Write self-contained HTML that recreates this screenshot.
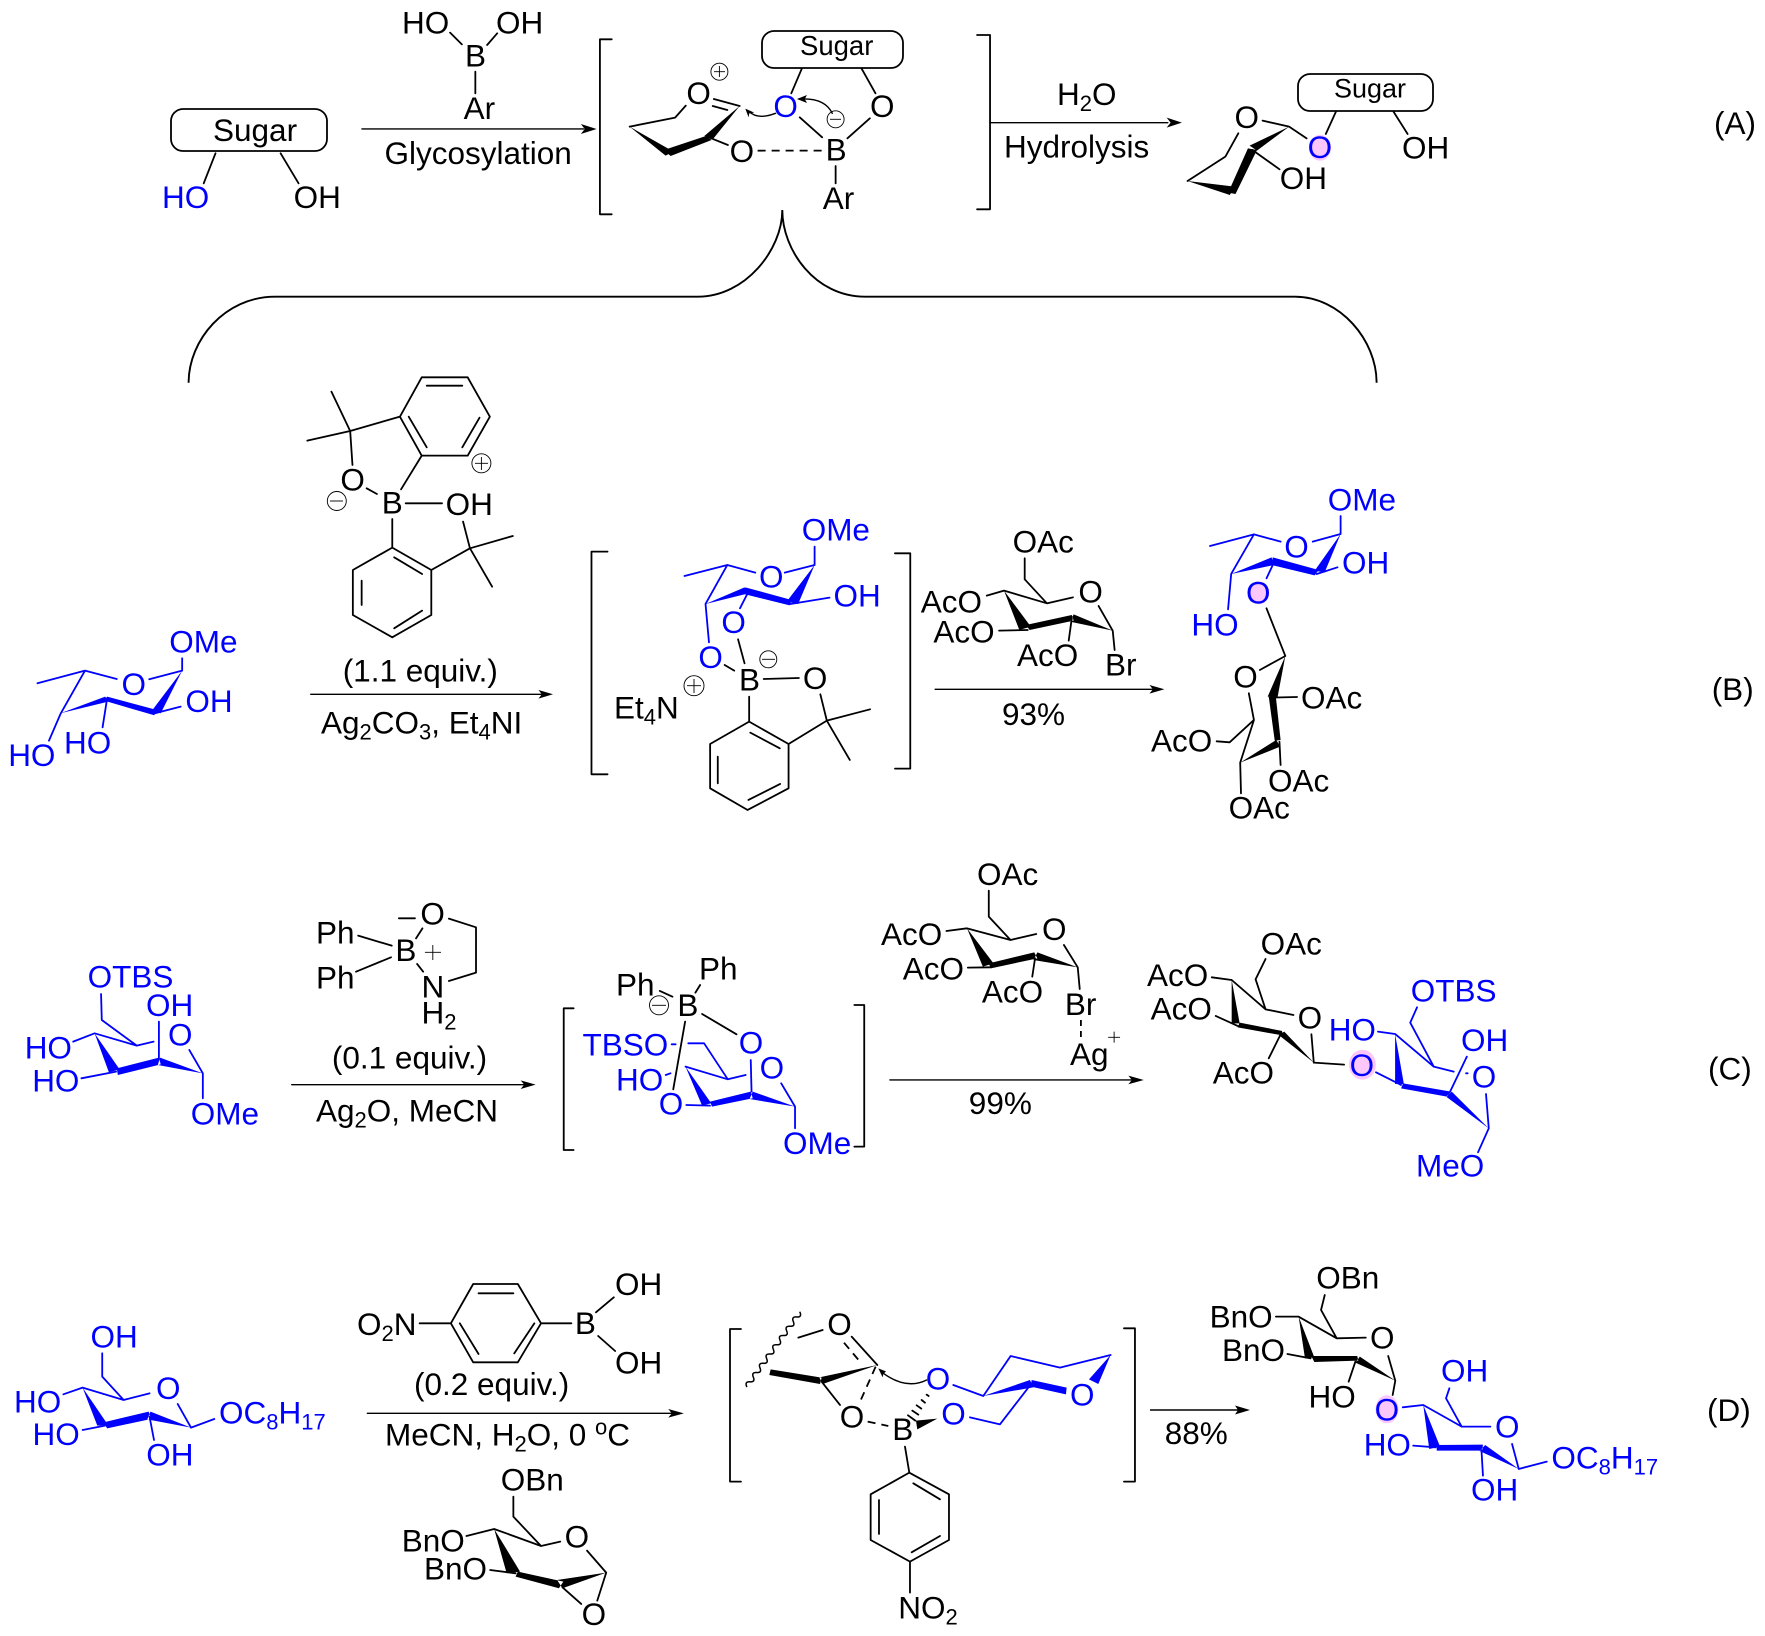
<!DOCTYPE html>
<html><head><meta charset="utf-8"><title>Boron-mediated glycosylation</title>
<style>
html,body{margin:0;padding:0;background:#fff}
svg{display:block}
text{font-family:"Liberation Sans",Arial,sans-serif;font-size:31.5px;fill:#000;transform:translateX(-1px)}
text.b{fill:#00f}
.k,.u,.a,.d,.du{fill:none;vector-effect:non-scaling-stroke;stroke-width:1.8;stroke-linecap:round;stroke-linejoin:round}
.k{stroke:#000}.u{stroke:#00f}
.a{stroke:#000;stroke-width:1.4}
.d{stroke:#000;stroke-dasharray:8 6;stroke-linecap:butt}
.du{stroke:#00f}
.w{fill:#000;stroke:none}.wb{fill:#00f;stroke:none}
.c{fill:none;stroke:#000;stroke-width:.9}
</style></head><body>
<svg xmlns="http://www.w3.org/2000/svg" width="1765" height="1636" viewBox="0 0 1765 1636">
<rect width="1765" height="1636" fill="#fff"/>

<!-- brace -->
<path d="M188.6,382.7C188.6,340 225,296.7 275,296.7L698,296.7C745,296.7 782.3,250 782.3,210C782.3,250 815,296.7 865,296.7L1295,296.7C1340,296.7 1376.6,340 1376.6,382.7" fill="none" stroke="#000" stroke-width="1.9"/>

<!-- pink highlights -->
<g fill="#fcc8fc">
<ellipse cx="1320" cy="147.7" rx="11" ry="13"/>
<ellipse cx="1258.6" cy="592.7" rx="10.5" ry="11.5"/>
<ellipse cx="1362.4" cy="1064.7" rx="13.5" ry="15"/>
<ellipse cx="1387" cy="1409.3" rx="11.5" ry="14"/>
</g>

<!-- Panel A left -->
<g transform="scale(.5612,.3333)">
<path class="k" d="M384,460L363,550M500,460L532,550M802,98L823,133M886,100L868,135M847,215L847,280M1090,118L1069,118L1069,643L1090,643M1429,205L1410,280M1535,205L1560,280M1122,380L1203,353L1222,317M1272,297L1318,318M1270,318L1296,330M1263,412L1297,435M1425,352L1465,412M1510,415L1550,355M1489,498L1489,550"/>
<path class="a" d="M645,387L1040,387M1382,340Q1350,360 1335,335M1483,340Q1470,295 1430,297"/>
<path class="w" d="M1063,387L1035,372L1042,387L1035,402ZM1328,326L1344,338L1335,340L1334,352ZM1420,297L1438,285L1434,297L1438,309Z"/>
<path class="w" d="M1318,318L1270,418L1255,408ZM1258,408L1268,420L1195,468L1183,450ZM1122,380L1200,455L1186,467Z"/>
<path class="d" d="M1350,452L1470,452"/>
</g>
<rect x="171" y="109" width="156" height="42" rx="12" fill="none" stroke="#000" stroke-width="1.8"/>
<rect x="762" y="31" width="141" height="37" rx="12" fill="none" stroke="#000" stroke-width="1.8"/>
<text x="214" y="141">Sugar</text>
<text class="b" x="163" y="208">HO</text>
<text x="294.6" y="208">OH</text>
<text x="403" y="33.7">HO</text>
<text x="497" y="33.7">OH</text>
<text x="466" y="66.7">B</text>
<text x="464.6" y="119">Ar</text>
<text x="385.5" y="164">Glycosylation</text>
<text x="801" y="55" style="font-size:27.5px">Sugar</text>
<text class="b" x="774.4" y="117">O</text>
<text x="871" y="117">O</text>
<text x="687.4" y="104">O</text>
<text x="730.6" y="162">O</text>
<text x="826.6" y="160.7">B</text>
<text x="823.8" y="209">Ar</text>
<circle class="c" cx="719.4" cy="71.7" r="8.5"/><path class="c" d="M714,71.7H725M719.4,66V77"/>
<circle class="c" cx="835.6" cy="119.3" r="8.5"/><path class="c" d="M830,119.3H841"/>

<!-- Panel A right -->
<g transform="translate(880,0) scale(.5643,.3333)">
<path class="k" d="M172,105L195,105L195,628L172,628M678,362L725,380L756,415M545,543L612,470L635,400M660,450L708,508M808,335L790,402M910,335L935,402"/>
<path class="a" d="M195,368L510,368"/>
<path class="w" d="M535,368L508,353L515,368L508,383ZM725,380L668,452L655,437ZM652,445L668,450L630,582L617,578ZM545,543L628,560L620,585Z"/>
</g>
<rect x="1298" y="74" width="135" height="37" rx="12" fill="none" stroke="#000" stroke-width="1.8"/>
<text x="1058" y="105">H<tspan font-size="22" dy="6">2</tspan><tspan dy="-6">O</tspan></text>
<text x="1005" y="157.7">Hydrolysis</text>
<text x="1235.5" y="128">O</text>
<text x="1280.7" y="189">OH</text>
<text class="b" x="1308.6" y="158">O</text>
<text x="1335" y="97.7" style="font-size:27px">Sugar</text>
<text x="1403" y="158.7">OH</text>
<text x="1715" y="134">(A)</text>

<!-- Panel B reagent + SM -->
<g transform="translate(0,370) scale(.3827,.3333)">
<path class="k" d="M1045,140L1102,22L1222,22L1280,140L1222,257L1102,257ZM1115,47L1208,47M1253,143L1208,232M1068,140L1115,232M915,183L1045,140M915,183L866,65M915,183L803,212M915,183L921,285M958,355L985,372M1048,358L1102,257M1060,400L1155,400M1025,447L1025,533L1127,600L1127,735L1025,802L922,735L922,600L1025,533M1030,562L1103,612M945,632L945,705M1030,775L1103,722M1127,600L1228,535L1210,455M1228,535L1340,498M1228,535L1286,650"/>
<path class="a" d="M812,973L1420,973"/>
<path class="w" d="M1445,973L1407,960L1416,973L1407,986Z"/>
<path class="u" d="M476,865L476,902L390,928M305,927L222,902L98,940M222,902L158,1032M405,1030L472,1010M280,985L268,1072M158,1032L128,1112"/>
<path class="wb" d="M476,902L420,1030L395,1025ZM280,980L410,1020L403,1036L272,992ZM158,1030L275,980L283,995Z"/>
</g>
<text x="341.4" y="490.7">O</text>
<text x="382.7" y="513.3">B</text>
<text x="446.6" y="515">OH</text>
<circle class="c" cx="481.4" cy="463.3" r="9.5"/><path class="c" d="M475,463.3H488M481.4,457V470"/>
<circle class="c" cx="336.8" cy="501" r="9.5"/><path class="c" d="M330,501H343"/>
<text x="343.7" y="681.7">(1.1 equiv.)</text>
<text x="322" y="733.3">Ag<tspan font-size="22" dy="6">2</tspan><tspan dy="-6">CO</tspan><tspan font-size="22" dy="6">3</tspan><tspan dy="-6">, Et</tspan><tspan font-size="22" dy="6">4</tspan><tspan dy="-6">NI</tspan></text>
<text class="b" x="170.3" y="652.7">OMe</text>
<text class="b" x="122.5" y="695">O</text>
<text class="b" x="186.4" y="712">OH</text>
<text class="b" x="65" y="753.3">HO</text>
<text class="b" x="9.2" y="766">HO</text>

<!-- Panel B intermediate + bromide -->
<g transform="translate(580,480) scale(.3827,.3333)">
<path class="k" d="M72,215L30,215L30,883L72,883M823,220L863,220L863,866L823,866M413,478L430,550M378,555L403,572M480,597L572,594M628,643L645,722L758,688M645,722L705,840M645,722L545,792M442,650L442,725L545,792L545,925L438,990L340,925L340,792L442,725M445,758L522,805M360,830L360,910M440,960L523,912M1162,235L1162,298L1220,370L1288,352M1355,378L1392,452M1063,347L1108,332L1220,370M1170,450L1095,452M1285,415L1277,482M1392,452L1397,510"/>
<path class="a" d="M928,628L1500,628"/>
<path class="w" d="M1527,628L1488,615L1497,628L1488,641ZM1108,332L1178,440L1148,450ZM1165,435L1285,405L1290,422L1175,450ZM1392,452L1290,403L1280,425Z"/>
<path class="u" d="M613,200L613,255L535,278M458,278L385,255L273,288M385,255L328,372M550,372L652,353M438,340L418,385M328,372L337,487"/>
<path class="wb" d="M613,255L570,372L540,365ZM432,322L553,360L548,376L428,342ZM328,372L430,322L440,340Z"/>
</g>
<text class="b" x="802.7" y="540.7">OMe</text>
<text class="b" x="760" y="587.7">O</text>
<text class="b" x="834.5" y="606.7">OH</text>
<text class="b" x="722.4" y="633">O</text>
<text class="b" x="699.4" y="668">O</text>
<text x="740" y="690.7">B</text>
<text x="803.9" y="689">O</text>
<circle class="c" cx="768.3" cy="659.3" r="8.5"/><path class="c" d="M762,659.3H775"/>
<text x="615" y="718.3">Et<tspan font-size="22" dy="6">4</tspan><tspan dy="-6">N</tspan></text>
<circle class="c" cx="694" cy="685.7" r="10"/><path class="c" d="M687,685.7H701M694,679V693"/>
<text x="1013.6" y="552.3">OAc</text>
<text x="1079.4" y="602.3">O</text>
<text x="921.7" y="612.7">AcO</text>
<text x="934.4" y="642.3">AcO</text>
<text x="1018" y="666">AcO</text>
<text x="1106" y="675.7">Br</text>
<text x="1003" y="725">93%</text>

<!-- Panel B product -->
<g transform="translate(1150,470) scale(.3922,.3333)">
<path class="u" d="M486,138L486,192L415,215M333,215L265,193L153,228M265,193L207,312M425,312L478,292M315,280L297,325M207,312L199,418"/>
<path class="wb" d="M486,192L445,308L420,302ZM313,262L430,300L420,316L310,285ZM207,312L310,262L316,285Z"/>
<path class="k" d="M297,415L345,558L280,600M305,683L375,681M252,670L265,750L203,817L170,814M265,750L230,878M330,815L333,885M230,878L232,970"/>
<path class="w" d="M345,558L325,683L300,680ZM303,682L321,682L333,810L318,812ZM230,878L322,810L332,830Z"/>
</g>
<text class="b" x="1328.8" y="510.7">OMe</text>
<text class="b" x="1285.3" y="557.3">O</text>
<text class="b" x="1343" y="573.3">OH</text>
<text class="b" x="1247" y="603.3">O</text>
<text class="b" x="1192.4" y="635.3">HO</text>
<text x="1234.3" y="687.3">O</text>
<text x="1302" y="708.3">OAc</text>
<text x="1152" y="751.3">AcO</text>
<text x="1269" y="791.3">OAc</text>
<text x="1229.6" y="818.7">OAc</text>
<text x="1712.7" y="700">(B)</text>

<!-- Panel C left -->
<g transform="translate(0,880) scale(.3571,.3333)">
<path class="u" d="M283,342L285,420L383,497L430,485M445,425L445,535M530,510L568,580L568,655M383,497L265,460L205,485M325,575L228,595"/>
<path class="wb" d="M265,460L335,568L305,577ZM327,565L445,533L450,553L330,585ZM568,580L448,533L442,555Z"/>
<path class="k" d="M1003,167L1097,197M997,275L1095,232M1165,175L1183,145M1117,115L1162,115M1257,116L1333,142L1333,278L1257,303M1168,252L1185,275"/>
<path class="c" style="vector-effect:non-scaling-stroke" d="M1190,217L1235,217M1212,195L1212,240"/>
<path class="a" d="M817,614L1475,614"/>
<path class="w" d="M1500,614L1458,601L1468,614L1458,627Z"/>
</g>
<text class="b" x="88.6" y="987.7">OTBS</text>
<text class="b" x="147" y="1016">OH</text>
<text class="b" x="169" y="1045.7">O</text>
<text class="b" x="191.8" y="1124.3">OMe</text>
<text class="b" x="25.7" y="1058.3">HO</text>
<text class="b" x="33.2" y="1091.7">HO</text>
<text x="317" y="943.3">Ph</text>
<text x="317" y="988.3">Ph</text>
<text x="396.4" y="961">B</text>
<text x="421.4" y="924.7">O</text>
<text x="422.5" y="997.3">N</text>
<text x="422.5" y="1023.3">H<tspan font-size="22" dy="6">2</tspan></text>
<text x="332.9" y="1068.3">(0.1 equiv.)</text>
<text x="317" y="1121.7">Ag<tspan font-size="22" dy="6">2</tspan><tspan dy="-6">O, MeCN</tspan></text>

<!-- Panel C intermediate + bromide -->
<g transform="translate(540,850) scale(.3954,.3333)">
<path class="k" d="M85,475L60,475L60,900L85,900M795,465L820,465L820,890L795,890M405,405L393,428M303,423L335,440M410,492L497,553M367,515L337,718M1135,122L1135,200L1190,270L1255,252M1325,285L1360,352L1365,417M1028,243L1080,235L1190,270M1082,353L1140,352M1252,325L1245,380"/>
<path class="d" style="stroke-dasharray:6 5" d="M1368,510L1368,570"/>
<path class="c" style="vector-effect:non-scaling-stroke" d="M1437,562L1467,562M1452,545L1452,578"/>
<path class="a" d="M885,690L1500,690"/>
<path class="w" d="M1527,690L1488,677L1497,690L1488,703ZM1080,235L1147,340L1120,350ZM1135,340L1250,307L1258,325L1140,355ZM1360,352L1258,307L1248,330Z"/>
<path class="u" d="M333,583L343,583M375,580L415,580L475,688L520,675M533,630L535,725M610,700L645,770L645,835M475,688L368,650M318,675L330,670M430,767L370,765"/>
<path class="wb" d="M368,650L433,760L410,767ZM430,755L533,725L538,745L435,770ZM645,770L538,725L530,747Z"/>
</g>
<text x="700" y="979.3">Ph</text>
<text x="617" y="995.3">Ph</text>
<circle class="c" cx="659" cy="1005.3" r="9.5"/><path class="c" d="M652,1005.3H666"/>
<text x="678.4" y="1016">B</text>
<text class="b" x="739.7" y="1053.3">O</text>
<text class="b" x="583.5" y="1055.3">TBSO</text>
<text class="b" x="760.6" y="1078.3">O</text>
<text class="b" x="784" y="1154">OMe</text>
<text class="b" x="617" y="1090.7">HO</text>
<text class="b" x="659.8" y="1114.3">O</text>
<text x="978" y="885">OAc</text>
<text x="1043" y="940">O</text>
<text x="1065.9" y="1015">Br</text>
<text x="1071" y="1065">Ag</text>
<text x="882" y="945">AcO</text>
<text x="903.8" y="979.3">AcO</text>
<text x="982.9" y="1002.3">AcO</text>
<text x="969.8" y="1114">99%</text>

<!-- Panel C product -->
<g transform="translate(1140,920) scale(.3986,.3333)">
<path class="k" d="M315,117L290,178L315,268M230,180L315,268L385,285M430,343L436,428M180,172L230,180M190,288L245,318M355,338L323,415M436,428L512,434"/>
<path class="w" d="M230,180L250,310L230,310ZM250,308L357,333L352,345L245,322ZM436,428L362,335L348,345Z"/>
<path class="u" d="M592,457L655,495M597,335L640,342L737,440L678,308L695,262M737,440L787,455M778,515L820,410M868,522L875,625L848,697M818,460L822,460"/>
<path class="wb" d="M640,342L662,492L640,492ZM660,490L780,515L770,530L655,505ZM875,625L782,515L768,530Z"/>
</g>
<text x="1261.6" y="954.3">OAc</text>
<text x="1298.6" y="1028.3">O</text>
<text x="1148" y="986">AcO</text>
<text x="1151.6" y="1019.3">AcO</text>
<text x="1213.7" y="1083.3">AcO</text>
<text class="b" x="1350.6" y="1076">O</text>
<text class="b" x="1329.7" y="1040.7">HO</text>
<text class="b" x="1411.8" y="1001.7">OTBS</text>
<text class="b" x="1462" y="1051">OH</text>
<text class="b" x="1472.8" y="1087.7">O</text>
<text class="b" x="1417" y="1176.7">MeO</text>
<text x="1709" y="1079.3">(C)</text>

<!-- Panel D left -->
<g transform="translate(0,1260) scale(.4464,.3333)">
<path class="u" d="M229,280L229,350L277,420L335,400M398,432L428,503L480,477M277,420L185,383L142,403M235,497L185,510M335,470L345,540"/>
<path class="wb" d="M185,383L242,495L218,497ZM232,487L333,455L338,477L240,505ZM428,503L337,455L330,478Z"/>
<path class="k" d="M940,190L1010,190L1060,72L1160,72L1212,190L1160,307L1060,307L1010,190M1072,100L1150,100M1197,190L1152,280M1030,190L1072,282M1212,190L1280,190M1335,157L1375,112M1340,228L1378,273M1150,710L1150,770L1212,858L1255,845M1315,872L1358,938L1338,1022M1045,828L1107,807L1212,858M1155,940L1098,930M1260,982L1302,1032"/>
<path class="a" d="M823,460L1505,460"/>
<path class="w" d="M1532,460L1497,447L1505,460L1497,473ZM1107,807L1165,935L1135,940ZM1160,935L1262,965L1252,985L1155,950ZM1358,938L1248,960L1260,985Z"/>
</g>
<text class="b" x="91.5" y="1347.3">OH</text>
<text class="b" x="157" y="1399">O</text>
<text class="b" x="220" y="1423.3">OC<tspan font-size="22" dy="6">8</tspan><tspan dy="-6">H</tspan><tspan font-size="22" dy="6">17</tspan></text>
<text class="b" x="15" y="1412.3">HO</text>
<text class="b" x="33.5" y="1445">HO</text>
<text class="b" x="147.3" y="1465.7">OH</text>
<text x="358" y="1335">O<tspan font-size="22" dy="6">2</tspan><tspan dy="-6">N</tspan></text>
<text x="575.9" y="1334">B</text>
<text x="616" y="1295">OH</text>
<text x="616" y="1373.3">OH</text>
<text x="415" y="1395">(0.2 equiv.)</text>
<text x="386" y="1445.7">MeCN, H<tspan font-size="22" dy="6">2</tspan><tspan dy="-6">O, 0 </tspan><tspan font-size="22" dy="-11">o</tspan><tspan dy="11">C</tspan></text>
<text x="501.8" y="1490.7">OBn</text>
<text x="565.6" y="1547.3">O</text>
<text x="402.7" y="1551.7">BnO</text>
<text x="425" y="1579.3">BnO</text>
<text x="582.6" y="1625">O</text>

<!-- Panel D intermediate -->
<g transform="translate(700,1300) scale(.3333)">
<path class="k" d="M123,87L90,87L90,545L123,545M1272,85L1305,85L1305,545L1272,545M295,113L368,90M455,110L532,195M365,245L420,315M615,440L628,518L747,583L747,720L630,785L512,720L512,583L628,518M640,550L720,598M537,600L537,702M635,757L720,708M630,785L630,878"/>
<path class="k" style="stroke-width:1.5" d="M300,37q6.3,15.1 -10,13.9t-10,13.9t-10,13.9t-10,13.9t-10,13.9t-10,13.9t-10,13.9t-10,13.9t-10,13.9t-10,13.9t-10,13.9t-10,13.9t-10,13.9t-10,13.9t-10,13.9t-10,13.9"/>
<path class="d" d="M432,128L480,185M527,200L478,310M503,365L565,378"/>
<path class="a" d="M680,240Q620,270 550,220"/>
<path class="w" d="M535,205L558,214L550,222L548,232ZM212,208L365,233L360,252L208,225ZM532,195L358,232L368,252ZM648,362L652,388L712,356Z"/>
<path class="k" d="M680,284L686,288M665,300L675,308M650,316L664,326M637,332L655,344M624,346L646,362"/>
<path class="u" d="M760,255L850,288L932,168L1080,203L1232,165M810,352L900,373L995,250"/>
<path class="wb" d="M850,288L990,240L1000,262ZM995,240L1100,263L1098,283L993,260ZM1232,165L1195,252L1167,238Z"/>
</g>
<text x="828.3" y="1335">O</text>
<text x="840.7" y="1427.3">O</text>
<text x="893.3" y="1440">B</text>
<text class="b" x="926.7" y="1389.3">O</text>
<text class="b" x="942.3" y="1424.3">O</text>
<text class="b" x="1071" y="1405.3">O</text>
<text x="899.3" y="1618.3">NO<tspan font-size="22" dy="6">2</tspan></text>

<!-- Panel D product -->
<path d="M1150,1410L1240,1410" fill="none" stroke="#000" stroke-width="1.4"/>
<path d="M1250,1410L1235,1405.5L1238,1410L1235,1414.5Z" fill="#000"/>
<text x="1165.7" y="1444">88%</text>
<g transform="translate(1180,1250) scale(.3731,.3333)">
<path class="k" d="M388,135L378,180L420,265L498,263M558,318L577,392L570,435M257,200L318,200L420,265M350,325L288,312M470,335L452,395"/>
<path class="w" d="M318,200L360,322L335,325ZM352,318L475,318L478,332L360,336ZM577,392L482,320L470,338Z"/>
<path class="u" d="M597,472L652,465L755,530L832,530M755,530L713,445L722,415M890,582L908,657L983,635M685,592L625,587M808,600L812,677"/>
<path class="wb" d="M652,465L697,590L668,597ZM688,585L812,584L810,602L688,602ZM908,657L818,585L803,603Z"/>
</g>
<text x="1317.3" y="1288.3">OBn</text>
<text x="1371" y="1348.3">O</text>
<text x="1210.6" y="1327.7">BnO</text>
<text x="1223" y="1361">BnO</text>
<text x="1309.5" y="1407.3">HO</text>
<text class="b" x="1375.6" y="1420.7">O</text>
<text class="b" x="1442" y="1381.7">OH</text>
<text class="b" x="1496" y="1437.3">O</text>
<text class="b" x="1552.4" y="1468.3">OC<tspan font-size="22" dy="6">8</tspan><tspan dy="-6">H</tspan><tspan font-size="22" dy="6">17</tspan></text>
<text class="b" x="1364.7" y="1455.7">HO</text>
<text class="b" x="1472" y="1500.7">OH</text>
<text x="1708" y="1421">(D)</text>
</svg>
</body></html>
